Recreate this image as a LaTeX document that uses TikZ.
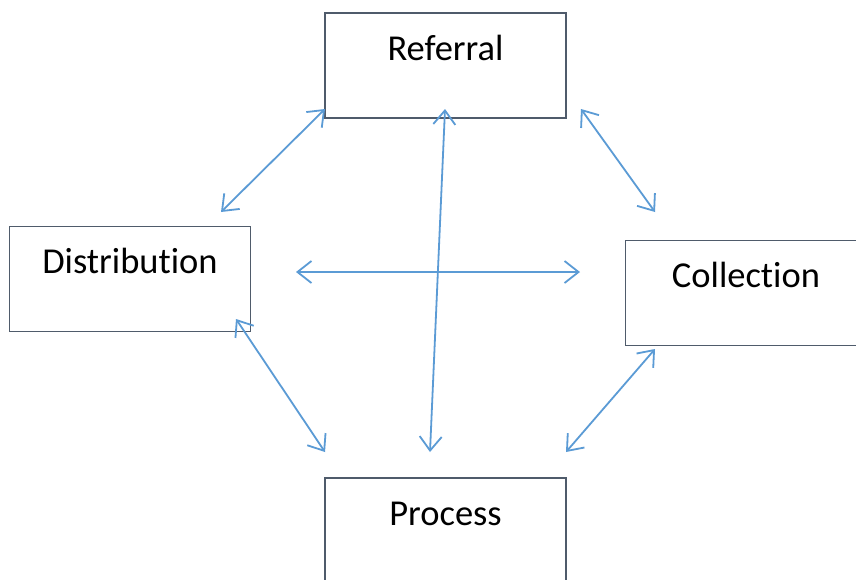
\documentclass[tikz,border=0pt]{standalone}
\usepackage{fontspec}
\setmainfont[Ligatures=NoCommon]{Carlito}
\usetikzlibrary{arrows.meta}
\definecolor{boxline}{HTML}{4F5B6B}
\definecolor{flow}{HTML}{5B9BD5}
\begin{document}
\begin{tikzpicture}[x=1pt,y=-1pt,
  stagebox/.style={draw=boxline, line width=1.8pt, fill=white, inner sep=0pt,
    minimum width=241pt, text height=47pt, text depth=58pt,
    font=\fontsize{36.5}{44}\selectfont},
  link/.style={draw=flow, line width=1.8pt,
    {Straight Barb[length=14pt,width=22pt]}-{Straight Barb[length=14pt,width=22pt]}}]
\useasboundingbox (0,0) rectangle (856,579);
\fill[white] (0,0) rectangle (856,579);
\clip (0,0) rectangle (856,579);

% stage boxes
\node[stagebox] (referral)     at (445.5,65.5) {Referral};
\node[stagebox] (distribution) at (130,279)    {Distribution};
\node[stagebox] (collection)   at (746,293)    {Collection};
\node[stagebox] (process)      at (445.5,530.5) {Process};

% arrow end points
\coordinate (rd1) at (325,109);
\coordinate (rd2) at (221,212);
\coordinate (rc1) at (581,109);
\coordinate (rc2) at (655,212);
\coordinate (dp1) at (236,319);
\coordinate (dp2) at (325,452);
\coordinate (cp1) at (655,349);
\coordinate (cp2) at (566,452);
\coordinate (hl) at (296,272);
\coordinate (hr) at (580,272);
\coordinate (vt) at (445,109);
\coordinate (vb) at (430,452);

% two-way links
\draw[link] (rd1) -- (rd2);
\draw[link] (rc1) -- (rc2);
\draw[link] (dp1) -- (dp2);
\draw[link] (cp1) -- (cp2);
\draw[link] (hl) -- (hr);
\draw[link] (vt) -- (vb);
\end{tikzpicture}
\end{document}
